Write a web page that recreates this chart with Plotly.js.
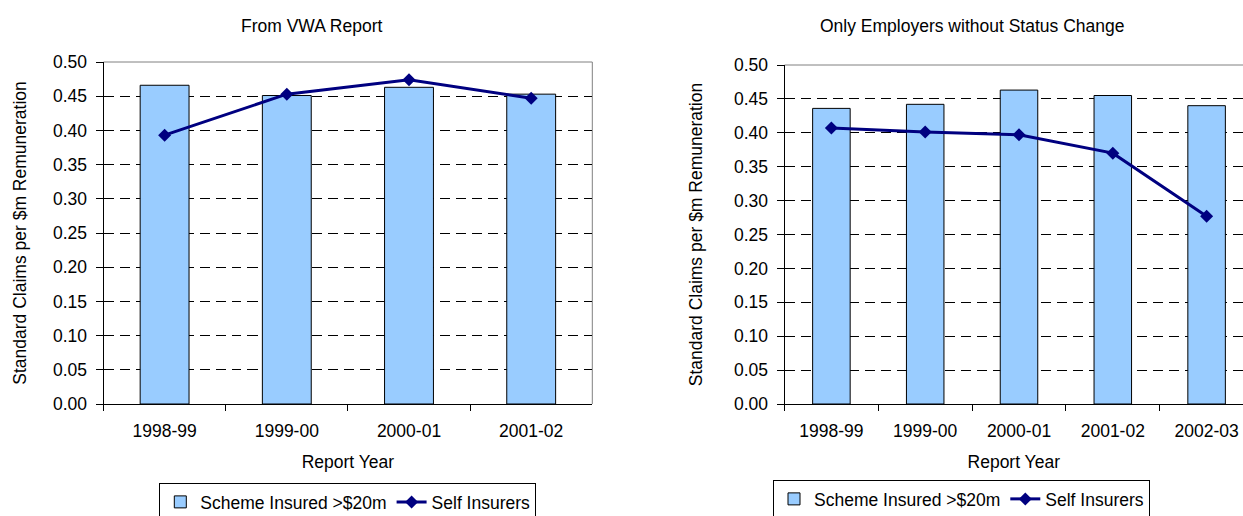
<!DOCTYPE html>
<html>
<head>
<meta charset="utf-8">
<script src="https://cdn.plot.ly/plotly-3.0.1.min.js"></script>
<style>
html,body{margin:0;padding:0;background:#fff;overflow:hidden;}
#chart{width:1243px;height:516px;}
</style>
</head>
<body>
<div id="chart"></div>
<script>
// ---- data ----
var leftTitle = 'From VWA Report';
var rightTitle = 'Only Employers without Status Change';
var leftYears = ['1998-99', '1999-00', '2000-01', '2001-02'];
var leftScheme = [0.466, 0.451, 0.463, 0.453];
var leftSelf = [0.393, 0.453, 0.474, 0.447];
var rightYears = ['1998-99', '1999-00', '2000-01', '2001-02', '2002-03'];
var rightScheme = [0.436, 0.442, 0.463, 0.455, 0.440];
var rightSelf = [0.407, 0.401, 0.397, 0.370, 0.277];
var yTickVals = [0, 0.05, 0.10, 0.15, 0.20, 0.25, 0.30, 0.35, 0.40, 0.45, 0.50];
var seriesNames = ['Scheme Insured >$20m', 'Self Insurers'];
var xTitle = 'Report Year';
var yTitle = 'Standard Claims per $m Remuneration';

// ---- styling ----
var W = 1243, H = 516;
var FONT = 'Liberation Sans, Arial, sans-serif';
var FS = 17.5;
var barFill = '#99CCFF';
var lineColor = '#000080';

function barTrace(x, y, xa, ya, lg, show) {
  return {type: 'bar', x: x, y: y, xaxis: xa, yaxis: ya, name: seriesNames[0],
    legend: lg, showlegend: show, width: 0.4,
    marker: {color: barFill, line: {color: '#000000', width: 1}},
    hoverinfo: 'x+y'};
}
function lineTrace(x, y, xa, ya, lg, show) {
  return {type: 'scatter', mode: 'lines+markers', x: x, y: y, xaxis: xa, yaxis: ya,
    name: seriesNames[1], legend: lg, showlegend: show,
    line: {color: lineColor, width: 3},
    marker: {symbol: 'diamond', size: 10, color: lineColor}};
}

var data = [
  barTrace(leftYears, leftScheme, 'x', 'y', 'legend', true),
  lineTrace(leftYears, leftSelf, 'x', 'y', 'legend', true),
  barTrace(rightYears, rightScheme, 'x2', 'y2', 'legend2', true),
  lineTrace(rightYears, rightSelf, 'x2', 'y2', 'legend2', true)
];

function px(v) { return v / W; }
function py(v) { return (H - v) / H; }

var catW = 93.8;
function xAxis(domain, range) {
  return {domain: domain, type: 'category', range: range,
    showline: true, linecolor: '#000000', linewidth: 1,
    ticks: 'outside', tickson: 'boundaries', ticklen: 6, tickcolor: '#000000',
    showgrid: false, zeroline: false, ticklabelstandoff: 11,
    tickfont: {family: FONT, size: FS, color: '#000'},
    title: {text: xTitle, font: {family: FONT, size: FS, color: '#000'}, standoff: 15},
    automargin: false, fixedrange: true};
}
function yAxis(domain, anchor, standoff) {
  return {domain: domain, anchor: anchor, range: [0, 0.5],
    tickvals: yTickVals, tickformat: '.2f',
    showline: true, linecolor: '#000000', linewidth: 1,
    ticks: 'outside', ticklen: 7, tickcolor: '#000000',
    showgrid: true, gridcolor: '#000000', gridwidth: 1, griddash: '10px,6px',
    zeroline: false, ticklabelstandoff: 5,
    tickfont: {family: FONT, size: FS, color: '#000'},
    title: {text: yTitle, font: {family: FONT, size: FS, color: '#000'}, standoff: standoff},
    automargin: false, fixedrange: true};
}

var legendBase = {orientation: 'h', xanchor: 'center', yanchor: 'top',
    bordercolor: '#000000', borderwidth: 1, bgcolor: '#ffffff',
    font: {family: FONT, size: FS, color: '#000'}, traceorder: 'normal',
    itemwidth: 30, tracegroupgap: 0};

var layout = {
  width: W, height: H,
  margin: {l: 0, r: 0, t: 0, b: 0, autoexpand: false},
  paper_bgcolor: '#ffffff', plot_bgcolor: '#ffffff',
  font: {family: FONT, size: FS, color: '#000'},
  xaxis: xAxis([px(103.5), px(592.3)], [-0.5, 3.5]),
  yaxis: yAxis([py(404), py(62)], 'x', 21),
  xaxis2: xAxis([px(784.5), 1], [-0.5, -0.5 + (W - 784.5) / catW]),
  yaxis2: yAxis([py(404), py(65)], 'x2', 26),
  legend: Object.assign({}, legendBase, {x: px(347.8), y: py(483)}),
  legend2: Object.assign({}, legendBase, {x: px(961.5), y: py(480)}),
  annotations: [
    {text: leftTitle, xref: 'paper', yref: 'paper', x: px(311.5), y: py(26.5),
     xanchor: 'center', yanchor: 'middle', showarrow: false,
     font: {family: FONT, size: FS, color: '#000'}},
    {text: rightTitle, xref: 'paper', yref: 'paper', x: px(972), y: py(26.5),
     xanchor: 'center', yanchor: 'middle', showarrow: false,
     font: {family: FONT, size: FS, color: '#000'}}
  ],
  shapes: [
    {type: 'line', xref: 'x domain', yref: 'y domain', x0: 0, x1: 1, y0: 1, y1: 1,
     line: {color: '#808080', width: 1}, layer: 'below'},
    {type: 'line', xref: 'x domain', yref: 'y domain', x0: 1, x1: 1, y0: 0, y1: 1,
     line: {color: '#808080', width: 1}, layer: 'below'},
    {type: 'line', xref: 'x2 domain', yref: 'y2 domain', x0: 0, x1: 1, y0: 1, y1: 1,
     line: {color: '#808080', width: 1}, layer: 'below'}
  ],
  showlegend: true
};

Plotly.newPlot('chart', data, layout, {displayModeBar: false, staticPlot: true});
</script>
</body>
</html>
